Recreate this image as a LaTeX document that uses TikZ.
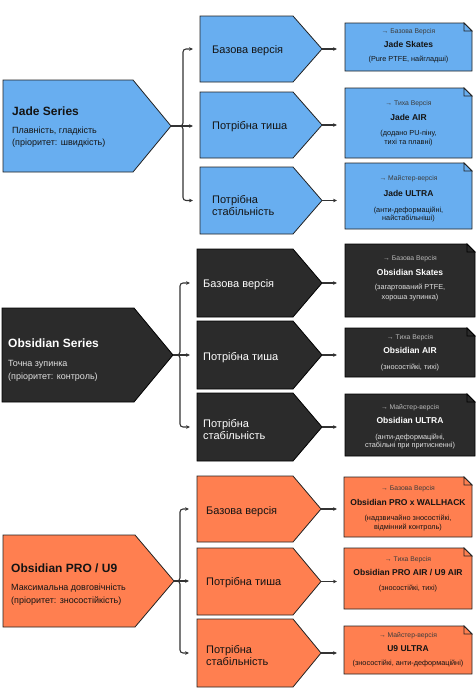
\documentclass[tikz,border=0pt]{standalone}
\usepackage{fontspec}
\setmainfont{Liberation Sans}
\usetikzlibrary{arrows.meta}
\definecolor{jadeF}{RGB}{104,174,240}
\definecolor{obsF}{RGB}{43,43,43}
\definecolor{proF}{RGB}{255,127,80}
\definecolor{edge}{RGB}{34,34,34}
\definecolor{ink}{RGB}{20,20,20}
\definecolor{conn}{RGB}{51,51,51}
\definecolor{lblDark}{RGB}{60,60,60}
\definecolor{lblLight}{RGB}{185,185,185}
\definecolor{subLight}{RGB}{225,225,225}

\tikzset{
 frame/.style={inner sep=0pt, outer sep=0pt, draw=none},
 shapeline/.style={draw=edge, line width=0.8pt, line join=miter},
 jade/.style={shapeline, fill=jadeF},
 obs/.style={shapeline, fill=obsF, draw=black},
 pro/.style={shapeline, fill=proF},
 arr/.style={draw=conn, line width=1.1pt, -{Stealth[length=4pt,width=3.6pt]}, rounded corners=3pt},
 bigtitle/.style={font=\fontsize{12}{14}\selectfont\bfseries, anchor=base west, inner sep=0pt},
 bigsub/.style={font=\fontsize{9}{11}\selectfont, anchor=base west, inner sep=0pt},
 midtext/.style={font=\fontsize{11}{13}\selectfont, anchor=base west, inner sep=0pt},
 nlabel/.style={font=\fontsize{6.8}{8}\selectfont, anchor=base, inner sep=0pt},
 ntitle/.style={font=\fontsize{8.5}{10}\selectfont\bfseries, anchor=base, inner sep=0pt},
 ndesc/.style={font=\fontsize{7.3}{9}\selectfont, anchor=base, inner sep=0pt},
}

\newcommand\pentshape[3]{%
 \draw[#1] (#2.north west) -- (#2.north east) -- ([xshift=#3]#2.east) -- (#2.south east) -- (#2.south west) -- cycle;
 \coordinate (#2-tip) at ([xshift=#3]#2.east);}
\newcommand\noteshape[2]{%
 \draw[#1] (#2.north west) -- ([xshift=-8pt]#2.north east) -- ([yshift=-8pt]#2.north east) -- (#2.south east) -- (#2.south west) -- cycle;
 \draw[#1] ([xshift=-8pt]#2.north east) -- ([xshift=-8pt,yshift=-8pt]#2.north east) -- ([yshift=-8pt]#2.north east) -- cycle;}
\newcommand\boxat[5]{% name, x, y, w, h
 \node[frame, minimum width=#4pt, minimum height=#5pt, anchor=north west] (#1) at (#2,#3) {};}

\begin{document}
\begin{tikzpicture}[x=1pt,y=-1pt]
\useasboundingbox (0,0) rectangle (476,699);

% ================= JADE =================
\boxat{J}{3}{80}{130}{92}
\pentshape{jade}{J}{38}
\boxat{J1}{200}{16}{93}{66}
\boxat{J2}{200}{92}{93}{66}
\boxat{J3}{200}{167}{93}{67}
\pentshape{jade}{J1}{29}
\pentshape{jade}{J2}{29}
\pentshape{jade}{J3}{29}
\boxat{J1n}{345}{23}{127}{48}
\boxat{J2n}{345}{88}{127}{70}
\boxat{J3n}{345}{163}{127}{66}
\noteshape{jade}{J1n}
\noteshape{jade}{J2n}
\noteshape{jade}{J3n}

\node[bigtitle, text=ink] (Jt) at (12,115.5) {Jade Series};
\node[bigsub, text=ink] (Js1) at (12,133) {Плавність, гладкість};
\node[bigsub, text=ink] (Js2) at (12,145) {(пріоритет: швидкість)};

\node[midtext, text=ink] (J1t) at (212,53) {Базова версія};
\node[midtext, text=ink] (J2t) at (212,129) {Потрібна тиша};
\node[midtext, text=ink] (J3t) at (212,203) {Потрібна};
\node[midtext, text=ink] (J3u) at (212,215.5) {стабільність};

\node[nlabel, text=lblDark] (J1l) at (408.5,33.3) {→ Базова Версія};
\node[ntitle, text=ink] (J1h) at (408.5,47) {Jade Skates};
\node[ndesc, text=ink] (J1d) at (408.5,61.5) {(Pure PTFE, найгладші)};

\node[nlabel, text=lblDark] (J2l) at (408.5,105.3) {→ Тиха Версія};
\node[ntitle, text=ink] (J2h) at (408.5,120) {Jade AIR};
\node[ndesc, text=ink] (J2d) at (408.5,135.5) {(додано PU-піну,};
\node[ndesc, text=ink] (J2e) at (408.5,144.5) {тихі та плавні)};

\node[nlabel, text=lblDark] (J3l) at (408.5,180.3) {→ Майстер-версія};
\node[ntitle, text=ink] (J3h) at (408.5,196) {Jade ULTRA};
\node[ndesc, text=ink] (J3d) at (408.5,212.5) {(анти-деформаційні,};
\node[ndesc, text=ink] (J3e) at (408.5,220.5) {найстабільніші)};

\coordinate (Jbr) at (183,126);
\draw[arr, shorten >=7pt] (J-tip) -- (Jbr) |- (J1.west);
\draw[arr, shorten >=7pt] (J-tip) -- (J2.west |- J-tip);
\draw[arr, shorten >=7pt] (J-tip) -- (Jbr) |- (J3.west);
\draw[arr, shorten >=8pt] (J1-tip) -- (J1-tip -| J1n.west);
\draw[arr, shorten >=8pt] (J2-tip) -- (J2-tip -| J2n.west);
\draw[arr, shorten >=8pt] (J3-tip) -- (J3-tip -| J3n.west);

% ================= OBSIDIAN =================
\boxat{O}{2}{308}{132}{94}
\pentshape{obs}{O}{39}
\boxat{O1}{197}{249}{96}{68}
\boxat{O2}{197}{321}{96}{68}
\boxat{O3}{197}{393}{96}{68}
\pentshape{obs}{O1}{29}
\pentshape{obs}{O2}{29}
\pentshape{obs}{O3}{29}
\boxat{O1n}{345}{244}{130}{73}
\boxat{O2n}{345}{328}{130}{49}
\boxat{O3n}{345}{394}{130}{62}
\noteshape{obs}{O1n}
\noteshape{obs}{O2n}
\noteshape{obs}{O3n}

\node[bigtitle, text=white] (Ot) at (8,347.5) {Obsidian Series};
\node[bigsub, text=subLight] (Os1) at (8,366) {Точна зупинка};
\node[bigsub, text=subLight] (Os2) at (8,379) {(пріоритет: контроль)};

\node[midtext, text=white] (O1t) at (203,287) {Базова версія};
\node[midtext, text=white] (O2t) at (203,360) {Потрібна тиша};
\node[midtext, text=white] (O3t) at (203,427) {Потрібна};
\node[midtext, text=white] (O3u) at (203,439) {стабільність};

\node[nlabel, text=lblLight] (O1l) at (410,260.3) {→ Базова Версія};
\node[ntitle, text=white] (O1h) at (410,275) {Obsidian Skates};
\node[ndesc, text=subLight] (O1d) at (410,289.5) {(загартований PTFE,};
\node[ndesc, text=subLight] (O1e) at (410,299.5) {хороша зупинка)};

\node[nlabel, text=lblLight] (O2l) at (410,339.3) {→ Тиха Версія};
\node[ntitle, text=white] (O2h) at (410,353) {Obsidian AIR};
\node[ndesc, text=subLight] (O2d) at (410,369.5) {(зносостійкі, тихі)};

\node[nlabel, text=lblLight] (O3l) at (410,409.3) {→ Майстер-версія};
\node[ntitle, text=white] (O3h) at (410,423) {Obsidian ULTRA};
\node[ndesc, text=subLight] (O3d) at (410,439.5) {(анти-деформаційні,};
\node[ndesc, text=subLight] (O3e) at (410,447.5) {стабільні при притисненні)};

\coordinate (Obr) at (180,355);
\draw[arr, shorten >=7pt] (O-tip) -- (Obr) |- (O1.west);
\draw[arr, shorten >=7pt] (O-tip) -- (O2.west |- O-tip);
\draw[arr, shorten >=7pt] (O-tip) -- (Obr) |- (O3.west);
\draw[arr, shorten >=8pt] (O1-tip) -- (O1-tip -| O1n.west);
\draw[arr, shorten >=8pt] (O2-tip) -- (O2-tip -| O2n.west);
\draw[arr, shorten >=8pt] (O3-tip) -- (O3-tip -| O3n.west);

% ================= PRO / U9 =================
\boxat{P}{3}{535}{132}{92}
\pentshape{pro}{P}{39}
\boxat{P1}{197}{476}{96}{66}
\boxat{P2}{197}{548}{96}{67}
\boxat{P3}{197}{619}{96}{68}
\pentshape{pro}{P1}{28}
\pentshape{pro}{P2}{28}
\pentshape{pro}{P3}{28}
\boxat{P1n}{344}{477}{128}{60}
\boxat{P2n}{344}{548}{128}{61}
\boxat{P3n}{344}{626}{128}{48}
\noteshape{pro}{P1n}
\noteshape{pro}{P2n}
\noteshape{pro}{P3n}

\node[bigtitle, text=ink] (Pt) at (11,572.5) {Obsidian PRO / U9};
\node[bigsub, text=ink] (Ps1) at (11,590) {Максимальна довговічність};
\node[bigsub, text=ink] (Ps2) at (11,603) {(пріоритет: зносостійкість)};

\node[midtext, text=ink] (P1t) at (206,514) {Базова версія};
\node[midtext, text=ink] (P2t) at (206,585) {Потрібна тиша};
\node[midtext, text=ink] (P3t) at (206,653) {Потрібна};
\node[midtext, text=ink] (P3u) at (206,665.5) {стабільність};

\node[nlabel, text=lblDark] (P1l) at (408,490.3) {→ Базова Версія};
\node[ntitle, text=ink] (P1h) at (408,505) {Obsidian PRO x WALLHACK};
\node[ndesc, text=ink] (P1d) at (408,520.5) {(надзвичайно зносостійкі,};
\node[ndesc, text=ink] (P1e) at (408,529.5) {відмінний контроль)};

\node[nlabel, text=lblDark] (P2l) at (408,561.3) {→ Тиха Версія};
\node[ntitle, text=ink] (P2h) at (408,575) {Obsidian PRO AIR / U9 AIR};
\node[ndesc, text=ink] (P2d) at (408,590.5) {(зносостійкі, тихі)};

\node[nlabel, text=lblDark] (P3l) at (408,637.3) {→ Майстер-версія};
\node[ntitle, text=ink] (P3h) at (408,651) {U9 ULTRA};
\node[ndesc, text=ink] (P3d) at (408,665.5) {(зносостійкі, анти-деформаційні)};

\coordinate (Pbr) at (180,581);
\draw[arr, shorten >=8pt] (P-tip) -- (Pbr) |- (P1.west);
\draw[arr, shorten >=8pt] (P-tip) -- (P2.west |- P-tip);
\draw[arr, shorten >=8pt] (P-tip) -- (Pbr) |- (P3.west);
\draw[arr, shorten >=7pt] (P1-tip) -- (P1-tip -| P1n.west);
\draw[arr, shorten >=7pt] (P2-tip) -- (P2-tip -| P2n.west);
\draw[arr, shorten >=7pt] (P3-tip) -- (P3-tip -| P3n.west);
\end{tikzpicture}
\end{document}
